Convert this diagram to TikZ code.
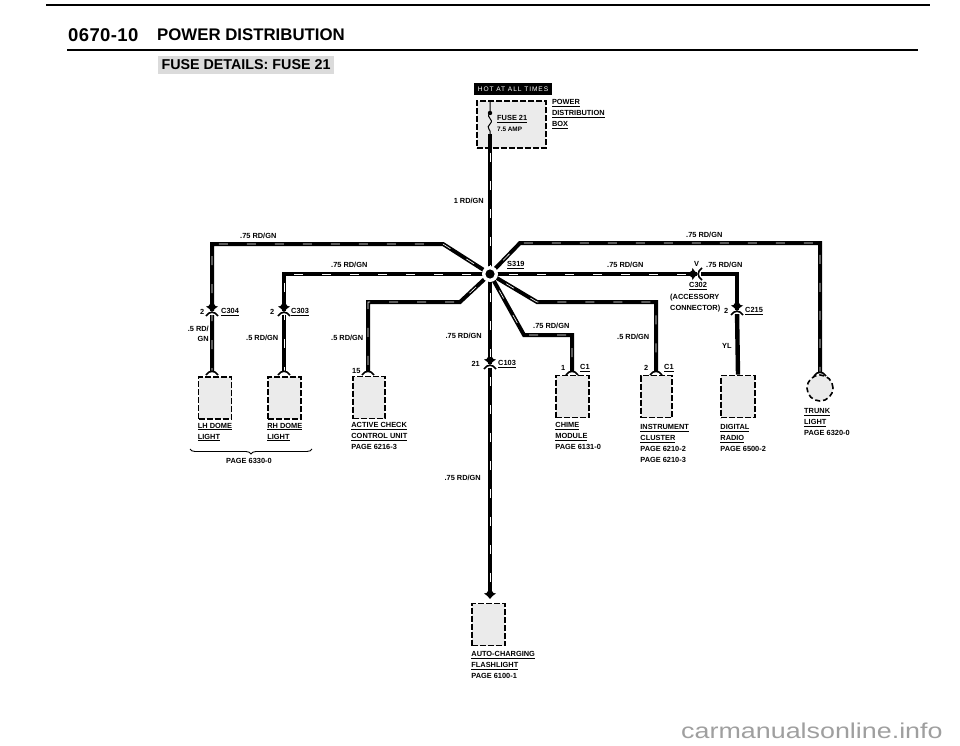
\documentclass[tikz,border=0pt]{standalone}
\usepackage{fontspec}
\setmainfont{Liberation Sans}
\newfontfamily\hotfont[LetterSpace=14]{Liberation Sans}
\newfontfamily\numfont[LetterSpace=2]{Liberation Sans}
\newfontfamily\sitefont[FakeStretch=1.25]{Liberation Sans}
\usetikzlibrary{
        decorations.pathreplacing,
        positioning,
        shapes.geometric
    }
\tikzset{x=1pt,y=-1pt}
\tikzset{wire/.style={line width=4pt,postaction={draw=white,line width=.6pt,dash pattern=on 9pt off 19pt,dash phase=9pt}}}
\tikzset{solid wire/.style={line width=4.4pt}}
\tikzset{device/.style={draw,fill=gray!16,line width=1.6pt,dash pattern=on 6pt off 2pt,minimum width=33pt,minimum height=42pt,inner sep=0pt}}
\tikzset{lamp/.style={device,circle,minimum width=26pt,minimum height=26pt,dash pattern=on 5pt off 3pt}}
\tikzset{wire label/.style={font=\fontsize{7.4}{9}\selectfont\bfseries,inner sep=0pt}}
\tikzset{device label/.style={wire label,align=left,font=\fontsize{7.4}{11}\selectfont\bfseries}}
\tikzset{plugtip/.pic={\fill (-6,-3.5) .. controls (-4,-3.5) and (-2.5,-4) .. (-2,-6) -- (2,-6) .. controls (2.5,-4) and (4,-3.5) .. (6,-3.5) .. controls (4,-2) and (1,-.5) .. (0,2) .. controls (-1,-.5) and (-4,-2) .. (-6,-3.5) -- cycle;}}
\tikzset{socket/.pic={\draw[line width=1.6pt] (-6,3) .. controls (-3,-2) and (3,-2) .. (6,3);}}
\tikzset{conn/.pic={
    \fill[white] (-6,-.5) rectangle (6,3.5);
    \fill (-6,-4.5) .. controls (-4,-4.5) and (-2.5,-5) .. (-2,-7) -- (2,-7) .. controls (2.5,-5) and (4,-4.5) .. (6,-4.5) .. controls (4,-3) and (1,-1.5) .. (0,1) .. controls (-1,-1.5) and (-4,-3) .. (-6,-4.5) -- cycle;
    \draw[line width=1.6pt] (-6,5) .. controls (-3,0) and (3,0) .. (6,5);
}}

\begin{document}
\begin{tikzpicture}
            \useasboundingbox (0,0) rectangle (960,746);

            \draw[line width=1.8pt] (46,5) -- (930,5);
            \draw[line width=1.8pt] (67,50) -- (918,50);
            \node[font=\numfont\fontsize{18.5}{20}\selectfont\bfseries,inner sep=0pt,anchor=west] (number) at (68,35) {0670-10};
            \node[font=\fontsize{16.8}{20}\selectfont\bfseries,inner sep=0pt,anchor=west] (title) at (157,35) {POWER DISTRIBUTION};
            \node[font=\fontsize{14.3}{17}\selectfont\bfseries,fill=gray!28,inner xsep=4pt,inner ysep=4pt] (details) at (246,65) {FUSE DETAILS: FUSE 21};

            \node[fill=black,text=white,font=\hotfont\fontsize{6.6}{8}\selectfont,minimum width=78pt,minimum height=12pt,inner sep=0pt] (hot) at (513,89) {HOT AT ALL TIMES};
            \node[device,minimum width=69pt,minimum height=47pt] (fusebox) at (511.5,124.5) {};
            \node[device label,anchor=north west] (pdbox) [right=5pt of fusebox.north east,anchor=north west,yshift=1pt] {\underline{POWER}\\\underline{DISTRIBUTION}\\\underline{BOX}};
            \node[wire label,anchor=west] (fuselabel) at (497,119) {\underline{FUSE 21}};
            \node[wire label,anchor=west,font=\fontsize{6.4}{8}\selectfont\bfseries] (amps) at (497,129) {7.5 AMP};

            \node[device] (lhdome) at (215,398) {};
            \node[device] (rhdome) at (284.5,398) {};
            \node[device,minimum width=32pt] (active) at (369,397.5) {};
            \node[device] (chime) at (572.5,396.5) {};
            \node[device,minimum width=31pt] (cluster) at (656.5,396.5) {};
            \node[device,minimum width=34pt] (radio) at (738,396.5) {};
            \node[lamp] (trunk) at (820,388) {};
            \node[device] (flashlight) at (488.5,624.5) {};

            \node[device label] (lhname) [below right=3pt and 0pt of lhdome.south west] {\underline{LH DOME}\\\underline{LIGHT}};
            \node[device label] (rhname) [below right=3pt and 0pt of rhdome.south west] {\underline{RH DOME}\\\underline{LIGHT}};
            \node[device label] (activename) [below right=3pt and -1pt of active.south west] {\underline{ACTIVE CHECK}\\\underline{CONTROL UNIT}\\PAGE 6216-3};
            \node[device label] (chimename) [below right=4pt and 0pt of chime.south west] {\underline{CHIME}\\\underline{MODULE}\\PAGE 6131-0};
            \node[device label] (clustername) [below right=6pt and 0pt of cluster.south west] {\underline{INSTRUMENT}\\\underline{CLUSTER}\\PAGE 6210-2\\PAGE 6210-3};
            \node[device label] (radioname) [below right=6pt and 0pt of radio.south west] {\underline{DIGITAL}\\\underline{RADIO}\\PAGE 6500-2};
            \node[device label,anchor=north west] (trunkname) at (804,408) {\underline{TRUNK}\\\underline{LIGHT}\\PAGE 6320-0};
            \node[device label] (flashname) [below right=5pt and 0pt of flashlight.south west] {\underline{AUTO-CHARGING}\\\underline{FLASHLIGHT}\\PAGE 6100-1};

            \coordinate (s319) at (490,274);
            \coordinate (fusetop) at (490,101);
            \coordinate (fusedot) at (490,113);
            \coordinate (fuseend) at (490,134);
            \coordinate (lhpin) at (212,372);
            \coordinate (rhpin) at (284,372);
            \coordinate (activepin) at (368,372);
            \coordinate (chimepin) at (572,372);
            \coordinate (clusterpin) at (656,372);
            \coordinate (trunkpin) at (820,373);
            \coordinate (c302) at (697,274);
            \coordinate (c215) at (737,311);
            \coordinate (flashpin) at (490,597);

            \draw[line width=1pt] (fusetop) -- (fusedot) .. controls (485,118) and (495,119) .. (490,124) .. controls (485,128) and (492,130) .. (fuseend);
            \fill (fusedot) circle (2.2pt);
            \draw[wire] (fuseend) -- (s319);
            \draw[wire] (s319) -- (flashpin);
            \draw[wire] (s319) -- (443,244) -- (212,244) -- (lhpin);
            \draw[wire] (s319) -- (284,274) -- (rhpin);
            \draw[wire] (s319) -- (460,302) -- (368,302) -- (activepin);
            \draw[wire] (s319) -- (520,243) -- (820,243) -- (trunkpin);
            \draw[wire] (s319) -- (c302);
            \draw[line width=4pt] (c302) -- (737,274) -- (c215);
            \draw[solid wire] (c215) -- (radio.north);
            \draw[wire] (s319) -- (537,302) -- (656,302) -- (clusterpin);
            \draw[wire] (s319) -- (524,335) -- (572,335) -- (chimepin);

            \fill[white] (s319) circle (8pt);
            \fill (s319) circle (4.6pt);

            \pic at (212,311) {conn};
            \pic at (284,311) {conn};
            \pic at (490,364) {conn};
            \pic at (737,310) {conn};
            \pic[rotate=90] at (697,274) {conn};
            \pic at (lhpin) {socket};
            \pic at (rhpin) {socket};
            \pic at (activepin) {socket};
            \pic at (chimepin) {socket};
            \pic at (clusterpin) {socket};
            \pic at (trunkpin) {socket};
            \pic at (flashpin) {plugtip};

            \draw[decorate,decoration={brace,mirror,amplitude=5pt},line width=.9pt] (190,449) -- (312,449);
            \node[wire label] (domepage) at (249,461) {PAGE 6330-0};

            \node[wire label,anchor=east] (mainone) at (484,201) {1 RD/GN};
            \node[wire label,anchor=west] (lhtop) at (240,236) {.75 RD/GN};
            \node[wire label,anchor=west] (rhtop) at (331,265) {.75 RD/GN};
            \node[wire label,anchor=west] (righttop) at (686,235) {.75 RD/GN};
            \node[wire label,anchor=west] (rightmid) at (607,265) {.75 RD/GN};
            \node[wire label,anchor=west] (radiotop) at (706,265) {.75 RD/GN};
            \node[wire label,anchor=west] (chimetop) at (533,326) {.75 RD/GN};
            \node[wire label,anchor=east] (mainmid) at (482,336) {.75 RD/GN};
            \node[wire label,anchor=east] (mainlow) at (481,478) {.75 RD/GN};
            \node[wire label,anchor=east,align=right,font=\fontsize{7.4}{10}\selectfont\bfseries] (lhlow) at (209,334) {.5 RD/\\GN};
            \node[wire label,anchor=west] (rhlow) at (246,338) {.5 RD/GN};
            \node[wire label,anchor=west] (activelow) at (331,338) {.5 RD/GN};
            \node[wire label,anchor=west] (clusterlow) at (617,337) {.5 RD/GN};
            \node[wire label,anchor=west] (yellow) at (722,346) {YL};

            \node[wire label,anchor=west] (pinlh) at (200,312) {2};
            \node[wire label,anchor=west] (c304) at (221,312) {\underline{C304}};
            \node[wire label,anchor=west] (pinrh) at (270,312) {2};
            \node[wire label,anchor=west] (c303) at (291,312) {\underline{C303}};
            \node[wire label,anchor=west] (pinactive) at (352,371) {15};
            \node[wire label,anchor=east] (pinmain) at (480,364) {21};
            \node[wire label,anchor=west] (c103) at (498,364) {\underline{C103}};
            \node[wire label,anchor=west] (s319name) at (507,265) {\underline{S319}};
            \node[wire label,anchor=west] (pinv) at (694,264) {V};
            \node[wire label,anchor=west] (c302name) at (689,286) {\underline{C302}};
            \node[device label,anchor=north west] (accessory) at (670,294) {(ACCESSORY\\CONNECTOR)};
            \node[wire label,anchor=west] (pinradio) at (724,311) {2};
            \node[wire label,anchor=west] (c215name) at (745,311) {\underline{C215}};
            \node[wire label,anchor=west] (pinchime) at (561,368) {1};
            \node[wire label,anchor=west] (c1chime) at (580,368) {\underline{C1}};
            \node[wire label,anchor=west] (pincluster) at (644,368) {2};
            \node[wire label,anchor=west] (c1cluster) at (664,368) {\underline{C1}};

            \node[font=\sitefont\fontsize{21.5}{24}\selectfont,text=gray!75,inner sep=0pt,anchor=base west] (site) at (681,738) {carmanualsonline.info};
        \end{tikzpicture}
\end{document}
